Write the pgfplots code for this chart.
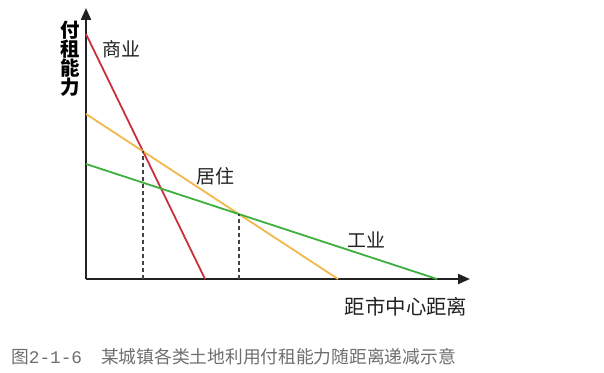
\documentclass[border=0pt]{standalone}
\usepackage{pgfplots}
\pgfplotsset{compat=1.18}
\usepackage{fontspec}
\setmainfont{Noto Sans CJK SC}
\newfontfamily\monof{Liberation Mono}
\usetikzlibrary{arrows.meta}
\definecolor{cred}{HTML}{C8303C}
\definecolor{corange}{HTML}{F2B84B}
\definecolor{cgreen}{HTML}{3DAF3D}
\definecolor{caxis}{HTML}{222222}
\definecolor{cdash}{HTML}{444444}
\definecolor{ccap}{HTML}{6E6E6E}
\begin{document}
\begin{tikzpicture}[x=1bp,y=1bp]
\path[use as bounding box] (0,0) rectangle (604,372);
\begin{axis}[
  at={(86bp,93bp)}, anchor=origin,
  scale only axis, width=384bp, height=271bp,
  xmin=0, xmax=384, ymin=0, ymax=271,
  axis lines=left,
  axis line style={caxis, line width=2.2bp, -{Triangle[length=12bp,width=10bp]}},
  xtick=\empty, ytick=\empty,
  clip=false,
]
\addplot[cred, line width=1.8bp] coordinates {(0,245) (119,0)};
\addplot[corange, line width=1.8bp] coordinates {(0,165) (252,0)};
\addplot[cgreen, line width=1.8bp] coordinates {(0,115) (351,0)};
\addplot[cdash, line width=1.2bp, dash pattern=on 4bp off 3bp] coordinates {(57,0) (57,127.7)};
\addplot[cdash, line width=1.2bp, dash pattern=on 4bp off 3bp] coordinates {(153,0) (153,65)};
\end{axis}
\node[font=\fontsize{19.5}{20}\selectfont\bfseries, align=center, text=black] at (70,313) {付\\[-1bp]租\\[-1bp]能\\[-1bp]力};
\node[font=\fontsize{19}{20}\selectfont, text=caxis] at (121,323) {商业};
\node[font=\fontsize{19}{20}\selectfont, text=caxis] at (215,196) {居住};
\node[font=\fontsize{19}{20}\selectfont, text=caxis] at (366,132) {工业};
\node[font=\fontsize{20.5}{20}\selectfont, text=caxis] at (406,65) {距市中心距离};
\node[font=\fontsize{17.8}{20}\selectfont, text=ccap, anchor=west, inner sep=0pt] at (11,15) {图{\monof 2-1-6}\hspace{19bp}某城镇各类土地利用付租能力随距离递减示意};
\end{tikzpicture}
\end{document}
